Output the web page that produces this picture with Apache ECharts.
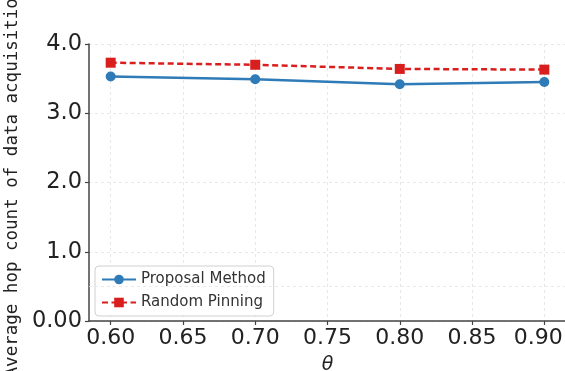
<!DOCTYPE html>
<html>
<head>
<meta charset="utf-8">
<script src="https://cdn.jsdelivr.net/npm/echarts@6/dist/echarts.min.js"></script>
<style>
html,body{margin:0;padding:0;background:#fff;}
#c{width:565px;height:371px;}
</style>
</head>
<body>
<div id="c"></div>
<script>
var thetas = [0.60, 0.70, 0.80, 0.90];
var proposal = [3.53, 3.49, 3.42, 3.45];
var random = [3.73, 3.70, 3.64, 3.63];
var xTicks = [0.60, 0.65, 0.70, 0.75, 0.80, 0.85, 0.90];
var yTicks = [0, 1, 2, 3, 4];
var extraGrid = [0.5];

function pairs(xs, ys){ return xs.map(function(x,i){return [x, ys[i]];}); }

var chart = echarts.init(document.getElementById('c'), null, {renderer:'canvas'});
var gridStyle = {color:'#e3e3e3', width:0.8, type:[3,3]};
var lastX = xTicks[xTicks.length-1];
chart.setOption({
  animation:false,
  grid:{left:89, top:44, width:477, height:277, containLabel:false, outerBoundsMode:'none'},
  legend:{
    left:95, top:266, orient:'vertical',
    backgroundColor:'rgba(255,255,255,0.85)', borderColor:'#d0d0d0', borderWidth:1, borderRadius:4,
    padding:[6,8,6,6], itemGap:8, itemWidth:34, itemHeight:12,
    textStyle:{fontFamily:'DejaVu Sans', fontSize:15, color:'#333'},
    data:['Proposal Method','Random Pinning']
  },
  xAxis:{
    type:'value', min:0.585, max:0.915,
    name:'θ', nameLocation:'middle', nameGap:35,
    nameTextStyle:{fontFamily:'DejaVu Sans', fontStyle:'italic', fontSize:19, color:'#222'},
    axisLine:{show:true, lineStyle:{color:'#444', width:1.5}},
    axisTick:{show:true, length:4, customValues:xTicks, lineStyle:{color:'#444', width:1.2}},
    axisLabel:{customValues:xTicks, fontFamily:'DejaVu Sans', fontSize:22, color:'#222', margin:6,
      formatter:function(v){
        var s = v.toFixed(2);
        return Math.abs(v-lastX) < 1e-9 ? '{r|' + s + '}' : s;
      },
      rich:{r:{fontFamily:'DejaVu Sans', fontSize:22, color:'#222', padding:[0,12,0,0]}}
    },
    splitLine:{show:true, lineStyle:gridStyle}
  },
  yAxis:{
    type:'value', min:0, max:4, interval:1,
    name:'Average hop count of data acquisition', nameLocation:'middle', nameGap:68, nameRotate:90,
    nameTextStyle:{fontFamily:'DejaVu Sans Mono', fontSize:17.5, color:'#222'},
    axisLine:{show:true, lineStyle:{color:'#444', width:1.5}},
    axisTick:{show:true, length:4, lineStyle:{color:'#444', width:1.2}},
    axisLabel:{fontFamily:'DejaVu Sans', fontSize:22.5, color:'#222', margin:7,
      formatter:function(v){return v===0 ? '0.00' : v.toFixed(1);}},
    splitLine:{show:true, lineStyle:gridStyle}
  },
  series:[
    {
      name:'Proposal Method', type:'line', data:pairs(thetas, proposal),
      symbol:'circle', symbolSize:10,
      lineStyle:{color:'#2e7bb8', width:2.5},
      itemStyle:{color:'#2e7bb8'},
      z:3,
      markLine:{silent:true, symbol:'none', label:{show:false},
        lineStyle:{color:'#e3e3e3', width:0.8, type:[3,3]},
        data:extraGrid.map(function(v){return {yAxis:v};})}
    },
    {
      name:'Random Pinning', type:'line', data:pairs(thetas, random),
      symbol:'rect', symbolSize:10,
      lineStyle:{color:'#d91e1e', width:2.5, type:[6,3.5]},
      itemStyle:{color:'#d91e1e'},
      z:3
    }
  ]
});
</script>
</body>
</html>
